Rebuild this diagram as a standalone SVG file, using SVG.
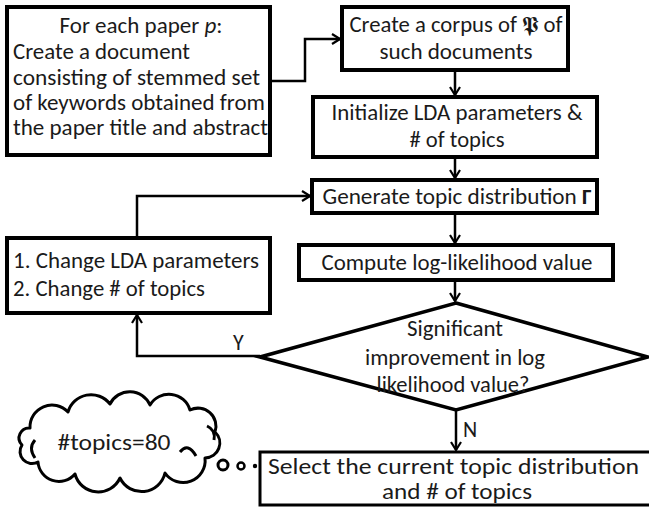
<svg xmlns="http://www.w3.org/2000/svg" width="649" height="507" viewBox="0 0 649 507">
<defs>
<style>
.box{fill:#fff;stroke:#000;stroke-width:4}
.t{font-family:Carlito,"Liberation Sans",Arial,sans-serif;font-size:22px;fill:#1a1a1a}
.m{text-anchor:middle}
.c{fill:none;stroke:#000;stroke-width:2.5}
.cl{fill:#fff;stroke:#000;stroke-width:3;stroke-linejoin:round}
</style>
<marker id="ah" viewBox="0 0 10 12" refX="9" refY="6" markerWidth="10" markerHeight="12" markerUnits="userSpaceOnUse" orient="auto">
<path d="M1,1 L9,6 L1,11" fill="none" stroke="#000" stroke-width="2.2"/>
</marker>
</defs>
<rect width="649" height="507" fill="#fff"/>

<g id="connectors">
<path class="c" d="M271,81 H305 V39 H340" marker-end="url(#ah)"/>
<path class="c" d="M455,70 V95" marker-end="url(#ah)"/>
<path class="c" d="M455,157 V178" marker-end="url(#ah)"/>
<path class="c" d="M455,213 V243" marker-end="url(#ah)"/>
<path class="c" d="M455,280 V301" marker-end="url(#ah)"/>
<path class="c" d="M456,410 V450" marker-end="url(#ah)"/>
<path class="c" d="M260,356 H137 V315" marker-end="url(#ah)"/>
<path class="c" d="M137,238 V196 H310" marker-end="url(#ah)"/>
<text class="t" x="233" y="350">Y</text>
<text class="t" x="463" y="437">N</text>
</g>

<g id="paper">
<rect class="box" x="7" y="7" width="263" height="148"/>
<text class="t m" x="141" y="33" textLength="163" lengthAdjust="spacingAndGlyphs">For each paper <tspan font-style="italic">p</tspan>:</text>
<text class="t" x="13" y="59" textLength="177" lengthAdjust="spacingAndGlyphs">Create a document</text>
<text class="t" x="13" y="85" textLength="247" lengthAdjust="spacingAndGlyphs">consisting of  stemmed set</text>
<text class="t" x="13" y="110" textLength="252" lengthAdjust="spacingAndGlyphs">of keywords obtained from</text>
<text class="t" x="13" y="135" textLength="255" lengthAdjust="spacingAndGlyphs">the paper title and abstract</text>
</g>

<g id="corpus">
<rect class="box" x="342" y="7" width="226" height="63"/>
<text class="t m" x="456" y="32" textLength="213" lengthAdjust="spacingAndGlyphs">Create a corpus of 𝕻 of</text>
<text class="t m" x="456" y="59" textLength="153" lengthAdjust="spacingAndGlyphs">such documents</text>
</g>

<g id="init">
<rect class="box" x="313" y="97" width="284" height="60"/>
<text class="t m" x="457" y="120" textLength="251" lengthAdjust="spacingAndGlyphs">Initialize LDA parameters &amp;</text>
<text class="t m" x="457" y="147" textLength="95" lengthAdjust="spacingAndGlyphs"># of topics</text>
</g>

<g id="generate">
<rect class="box" x="312" y="180" width="285" height="33"/>
<text class="t m" x="457" y="204" textLength="269" lengthAdjust="spacingAndGlyphs">Generate topic distribution <tspan font-weight="bold">Γ</tspan></text>
</g>

<g id="compute">
<rect class="box" x="299" y="245" width="314" height="35"/>
<text class="t m" x="457" y="270" textLength="271" lengthAdjust="spacingAndGlyphs">Compute log-likelihood value</text>
</g>

<g id="decision">
<polygon points="456,303 648,357 456,410 260,357" fill="none" stroke="#000" stroke-width="3.5" stroke-linejoin="miter"/>
<text class="t m" x="455" y="336" textLength="96" lengthAdjust="spacingAndGlyphs">Significant</text>
<text class="t m" x="455" y="365" textLength="180" lengthAdjust="spacingAndGlyphs">improvement in log</text>
<text class="t m" x="453" y="392" textLength="153" lengthAdjust="spacingAndGlyphs">likelihood value?</text>
</g>

<g id="change">
<rect class="box" x="7" y="238" width="263" height="75"/>
<text class="t" x="13" y="268" textLength="246" lengthAdjust="spacingAndGlyphs">1. Change LDA parameters</text>
<text class="t" x="13" y="296" textLength="192" lengthAdjust="spacingAndGlyphs">2. Change # of topics</text>
</g>

<g id="select">
<rect x="260" y="452" width="400" height="53" fill="#fff" stroke="#000" stroke-width="3"/>
<text class="t" x="268" y="474" textLength="371" lengthAdjust="spacingAndGlyphs">Select the current topic distribution</text>
<text class="t m" x="457" y="499" textLength="150" lengthAdjust="spacingAndGlyphs">and # of topics</text>
</g>

<g id="cloud">
<path class="cl" d="M30,428 A22,22 0 0 1 68,412 A24,24 0 0 1 110,404 A22,22 0 0 1 150,405 A22,22 0 0 1 190,410 A18,18 0 0 1 215,432 A15,15 0 0 1 205,458 A22,22 0 0 1 165,473 A24,24 0 0 1 120,478 A24,24 0 0 1 75,474 A21,21 0 0 1 38,462 A12,12 0 0 1 22,445 A10,10 0 0 1 30,428 Z"/>
<path d="M180,452 Q188,442 196,456" fill="none" stroke="#000" stroke-width="3"/>
<path d="M207,426 Q216,430 214,440" fill="none" stroke="#000" stroke-width="3"/>
<path d="M35,440 Q28,448 35,458" fill="none" stroke="#000" stroke-width="3"/>
<text class="t m" x="114" y="450" textLength="113" lengthAdjust="spacingAndGlyphs">#topics=80</text>
<circle cx="223" cy="465" r="5" fill="none" stroke="#000" stroke-width="3"/>
<circle cx="241" cy="466" r="3.5" fill="none" stroke="#000" stroke-width="2.5"/>
<circle cx="255" cy="466" r="2.2" fill="#000"/>
</g>
</svg>
